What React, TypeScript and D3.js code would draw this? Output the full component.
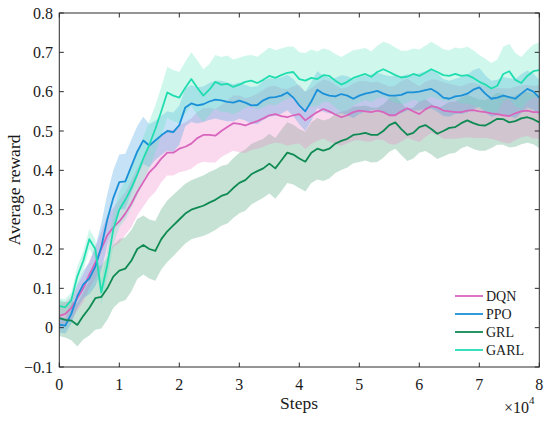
import * as d3 from "d3";

// mean reward per 1000 steps (index = thousands of steps, 0..80)
const garl = [
  0.055, 0.052, 0.07, 0.13, 0.17, 0.225, 0.2, 0.09, 0.16, 0.25,
  0.3, 0.325, 0.355, 0.39, 0.43, 0.465, 0.505, 0.55, 0.598, 0.59,
  0.585, 0.61, 0.632, 0.61, 0.59, 0.605, 0.625, 0.618, 0.62, 0.612,
  0.618, 0.625, 0.628, 0.622, 0.63, 0.64, 0.635, 0.642, 0.648, 0.65,
  0.632, 0.628, 0.635, 0.632, 0.642, 0.64, 0.628, 0.618, 0.625, 0.635,
  0.64, 0.645, 0.638, 0.65, 0.657, 0.65, 0.642, 0.636, 0.638, 0.645,
  0.64, 0.648, 0.657, 0.65, 0.642, 0.64, 0.645, 0.64, 0.642, 0.635,
  0.625, 0.618, 0.608, 0.615, 0.645, 0.652, 0.63, 0.622, 0.64, 0.652, 0.655,
];
const ppo = [
  0.008, 0.005, 0.035, 0.08, 0.11, 0.125, 0.155, 0.205, 0.275, 0.33,
  0.37, 0.372, 0.41, 0.448, 0.476, 0.463, 0.476, 0.489, 0.5, 0.497,
  0.515, 0.56, 0.57, 0.565, 0.568, 0.575, 0.58, 0.578, 0.574, 0.572,
  0.577, 0.572, 0.565, 0.566, 0.578, 0.585, 0.586, 0.59, 0.598, 0.585,
  0.565, 0.55, 0.575, 0.605, 0.595, 0.59, 0.588, 0.594, 0.59, 0.582,
  0.59, 0.595, 0.598, 0.602, 0.595, 0.59, 0.59, 0.592, 0.598, 0.598,
  0.6, 0.604, 0.607, 0.598, 0.585, 0.582, 0.588, 0.59, 0.595, 0.605,
  0.611, 0.595, 0.582, 0.585, 0.59, 0.586, 0.582, 0.595, 0.607, 0.6, 0.585,
];
const dqn = [
  0.03, 0.035, 0.05, 0.075, 0.1, 0.135, 0.165, 0.2, 0.235, 0.255,
  0.27, 0.29, 0.315, 0.345, 0.37, 0.395, 0.41, 0.43, 0.445, 0.445,
  0.455, 0.46, 0.468, 0.482, 0.49, 0.49, 0.488, 0.5, 0.51, 0.52,
  0.518, 0.514, 0.52, 0.525, 0.532, 0.54, 0.543, 0.538, 0.535, 0.54,
  0.543, 0.527, 0.538, 0.548, 0.556, 0.55, 0.542, 0.535, 0.54, 0.548,
  0.552, 0.55, 0.548, 0.552, 0.548, 0.54, 0.54, 0.55, 0.558, 0.55,
  0.543, 0.555, 0.563, 0.56, 0.552, 0.55, 0.548, 0.548, 0.552, 0.553,
  0.55, 0.548, 0.545, 0.543, 0.54, 0.538, 0.545, 0.55, 0.552, 0.548, 0.548,
];
const grl = [
  0.024, 0.02, 0.018, 0.007, 0.03, 0.05, 0.075, 0.078, 0.1, 0.13,
  0.145, 0.15, 0.17, 0.2, 0.21, 0.2, 0.195, 0.225, 0.245, 0.26,
  0.275, 0.29, 0.3, 0.305, 0.31, 0.318, 0.325, 0.335, 0.34, 0.355,
  0.368, 0.375, 0.39, 0.398, 0.405, 0.417, 0.405, 0.425, 0.445, 0.44,
  0.43, 0.422, 0.445, 0.455, 0.45, 0.455, 0.468, 0.475, 0.48, 0.49,
  0.492, 0.495, 0.49, 0.49, 0.5, 0.515, 0.522, 0.505, 0.49, 0.495,
  0.51, 0.515, 0.505, 0.493, 0.5, 0.508, 0.51, 0.52, 0.527, 0.52,
  0.515, 0.514, 0.522, 0.531, 0.53, 0.522, 0.525, 0.532, 0.535, 0.53, 0.522,
];

// half-width of the shaded band
const garlSpread = [
  0.02, 0.02, 0.02, 0.025, 0.025, 0.025, 0.025, 0.03, 0.035, 0.04,
  0.045, 0.05, 0.05, 0.055, 0.055, 0.06, 0.06, 0.062, 0.065, 0.065,
  0.065, 0.066, 0.068, 0.07, 0.067, 0.065, 0.068, 0.07, 0.072, 0.07,
  0.068, 0.066, 0.065, 0.067, 0.07, 0.072, 0.07, 0.068, 0.066, 0.065,
  0.068, 0.07, 0.072, 0.07, 0.068, 0.066, 0.068, 0.07, 0.072, 0.07,
  0.068, 0.066, 0.065, 0.067, 0.07, 0.072, 0.07, 0.068, 0.066, 0.065,
  0.067, 0.069, 0.07, 0.068, 0.066, 0.065, 0.067, 0.07, 0.072, 0.07,
  0.068, 0.066, 0.065, 0.067, 0.069, 0.07, 0.068, 0.066, 0.065, 0.067, 0.07,
];
const ppoSpread = [
  0.02, 0.02, 0.025, 0.03, 0.035, 0.04, 0.05, 0.06, 0.065, 0.07,
  0.07, 0.07, 0.068, 0.065, 0.06, 0.055, 0.05, 0.05, 0.05, 0.05,
  0.05, 0.048, 0.047, 0.046, 0.045, 0.047, 0.048, 0.05, 0.049, 0.047,
  0.046, 0.045, 0.047, 0.048, 0.05, 0.049, 0.047, 0.046, 0.045, 0.047,
  0.048, 0.05, 0.049, 0.047, 0.046, 0.045, 0.047, 0.048, 0.05, 0.049,
  0.047, 0.046, 0.045, 0.047, 0.048, 0.05, 0.049, 0.047, 0.046, 0.045,
  0.047, 0.048, 0.05, 0.049, 0.047, 0.046, 0.045, 0.047, 0.048, 0.05,
  0.049, 0.047, 0.046, 0.045, 0.047, 0.048, 0.05, 0.049, 0.047, 0.046, 0.045,
];
const dqnSpread = [
  0.03, 0.03, 0.03, 0.032, 0.035, 0.035, 0.04, 0.045, 0.05, 0.05,
  0.055, 0.055, 0.06, 0.06, 0.062, 0.065, 0.065, 0.06, 0.058, 0.058,
  0.06, 0.062, 0.064, 0.066, 0.068, 0.07, 0.068, 0.066, 0.068, 0.07,
  0.072, 0.07, 0.068, 0.07, 0.072, 0.074, 0.072, 0.07, 0.072, 0.074,
  0.075, 0.073, 0.071, 0.073, 0.075, 0.077, 0.075, 0.073, 0.071, 0.073,
  0.075, 0.077, 0.075, 0.073, 0.071, 0.073, 0.075, 0.077, 0.075, 0.073,
  0.071, 0.07, 0.068, 0.07, 0.072, 0.07, 0.068, 0.066, 0.068, 0.07,
  0.068, 0.066, 0.065, 0.067, 0.069, 0.07, 0.068, 0.066, 0.065, 0.067, 0.068,
];
const grlSpread = [
  0.045, 0.045, 0.05, 0.055, 0.06, 0.07, 0.08, 0.08, 0.08, 0.08,
  0.08, 0.08, 0.078, 0.076, 0.075, 0.075, 0.076, 0.077, 0.078, 0.078,
  0.077, 0.076, 0.075, 0.076, 0.077, 0.078, 0.077, 0.076, 0.075, 0.076,
  0.077, 0.078, 0.077, 0.076, 0.075, 0.076, 0.077, 0.078, 0.077, 0.076,
  0.075, 0.076, 0.077, 0.078, 0.077, 0.076, 0.075, 0.074, 0.073, 0.072,
  0.071, 0.07, 0.07, 0.069, 0.068, 0.068, 0.067, 0.066, 0.066, 0.065,
  0.065, 0.066, 0.065, 0.064, 0.065, 0.066, 0.065, 0.064, 0.065, 0.066,
  0.065, 0.064, 0.065, 0.066, 0.065, 0.064, 0.065, 0.066, 0.065, 0.064, 0.065,
];

const xTicks = [0, 1, 2, 3, 4, 5, 6, 7, 8];
const yTicks = [-0.1, 0, 0.1, 0.2, 0.3, 0.4, 0.5, 0.6, 0.7, 0.8];

const series = [
  { name: "DQN", mean: dqn, spread: dqnSpread, line: "#D865BD", fill: "#F080C8" },
  { name: "PPO", mean: ppo, spread: ppoSpread, line: "#1A90D9", fill: "#3FA0E0" },
  { name: "GRL", mean: grl, spread: grlSpread, line: "#0E8A52", fill: "#3FA070" },
  { name: "GARL", mean: garl, spread: garlSpread, line: "#20DDB0", fill: "#5FE3BF" },
];
// band stacking order as in the figure
const bandOrder = ["GRL", "DQN", "PPO", "GARL"];

const FONT = "'Liberation Serif', 'Times New Roman', serif";

export default function App() {
  const left = 59.3;
  const right = 539.3;
  const top = 13;
  const bottom = 367;

  const x = d3.scaleLinear().domain([0, 8]).range([left, right]);
  const y = d3.scaleLinear().domain([-0.1, 0.8]).range([bottom, top]);

  const area = (mean: number[], spread: number[]) =>
    d3
      .area<number>()
      .x((_, i) => x(i / 10))
      .y0((d, i) => y(d - spread[i]))
      .y1((d, i) => y(d + spread[i]))(mean) ?? "";

  const path = (mean: number[]) =>
    d3
      .line<number>()
      .x((_, i) => x(i / 10))
      .y((d) => y(d))(mean) ?? "";

  const fmtY = (v: number) => (v < 0 ? "\u2212" + Math.abs(v).toFixed(1) : v === 0 ? "0" : v.toFixed(1));
  const tickLen = 4.5;
  const axisColor = "#2b2b2b";

  return (
    <svg
      width={550}
      height={422}
      viewBox="0 0 550 422"
      style={{ position: "absolute", left: 0, top: 0, background: "#fff" }}
      fontFamily={FONT}
    >
      <defs>
        <clipPath id="plot">
          <rect x={left} y={top} width={right - left} height={bottom - top} />
        </clipPath>
      </defs>

      <g clipPath="url(#plot)">
        {bandOrder.map((n) => {
          const s = series.find((d) => d.name === n)!;
          return <path key={n} d={area(s.mean, s.spread)} fill={s.fill} fillOpacity={0.3} stroke="none" />;
        })}
        {series.map((s) => (
          <path key={s.name} d={path(s.mean)} fill="none" stroke={s.line} strokeWidth={1.8} strokeLinejoin="round" />
        ))}
      </g>

      <rect x={left} y={top} width={right - left} height={bottom - top} fill="none" stroke={axisColor} strokeWidth={1} />

      {xTicks.map((t) => (
        <g key={"x" + t}>
          <line x1={x(t)} x2={x(t)} y1={bottom} y2={bottom - tickLen} stroke={axisColor} />
          <line x1={x(t)} x2={x(t)} y1={top} y2={top + tickLen} stroke={axisColor} />
          <text x={x(t)} y={390} textAnchor="middle" fontSize={16} fill="#1a1a1a">
            {t}
          </text>
        </g>
      ))}
      {yTicks.map((t) => (
        <g key={"y" + t}>
          <line x1={left} x2={left + tickLen} y1={y(t)} y2={y(t)} stroke={axisColor} />
          <line x1={right} x2={right - tickLen} y1={y(t)} y2={y(t)} stroke={axisColor} />
          <text x={53} y={y(t) + 5.5} textAnchor="end" fontSize={16} fill="#1a1a1a">
            {fmtY(t)}
          </text>
        </g>
      ))}

      <text x={299} y={409} textAnchor="middle" fontSize={17.5} fill="#1a1a1a">
        Steps
      </text>
      <text x={504} y={413} fontSize={16} fill="#1a1a1a">
        ×10
        <tspan fontSize={11} dy={-9}>
          4
        </tspan>
      </text>
      <text
        transform="rotate(-90)"
        x={-190}
        y={20}
        textAnchor="middle"
        fontSize={17.5}
        fill="#1a1a1a"
      >
        Average reward
      </text>

      {series.map((s, i) => {
        const ly = 296 + i * 18;
        return (
          <g key={"lg" + s.name}>
            <line x1={455} x2={483} y1={ly} y2={ly} stroke={s.line} strokeWidth={1.8} />
            <text x={486} y={ly + 5} fontSize={14} fill="#1a1a1a">
              {s.name}
            </text>
          </g>
        );
      })}
    </svg>
  );
}
